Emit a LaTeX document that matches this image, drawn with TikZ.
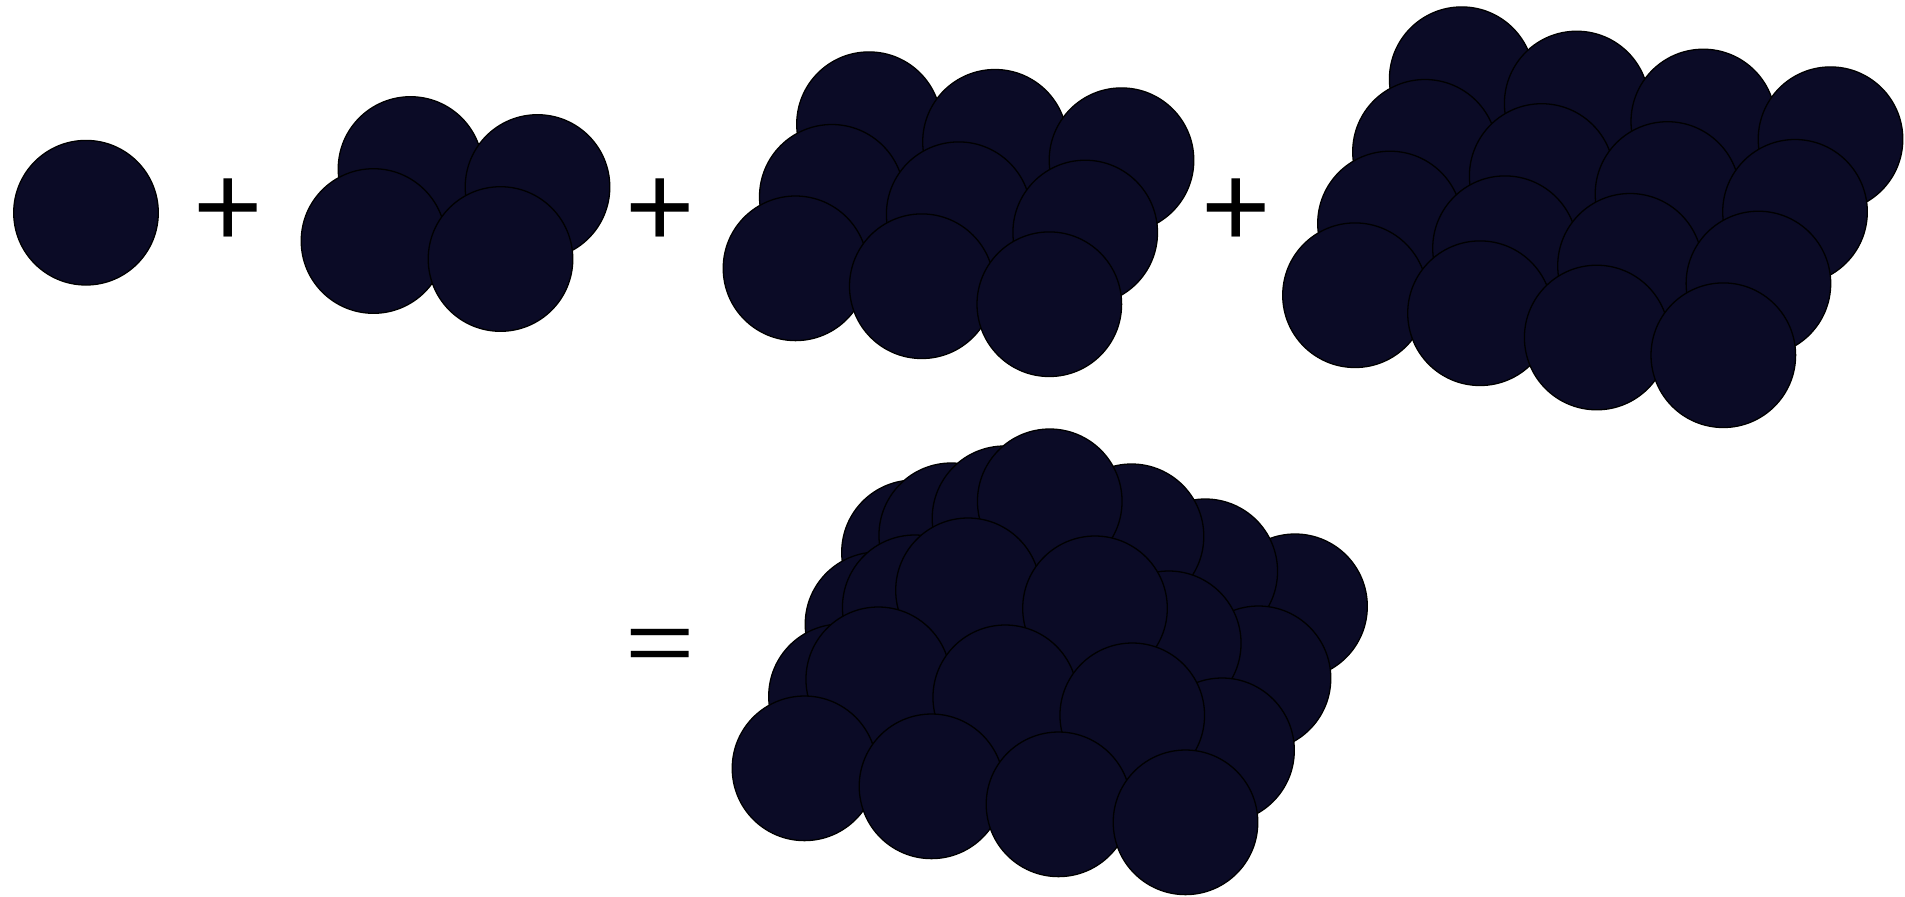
\documentclass[tikz,border=0pt]{standalone}
\usepackage{fontspec}
\setmainfont{Liberation Sans}
\definecolor{ballc}{RGB}{11,11,38}
\begin{document}
\begin{tikzpicture}[x=0.5pt,y=-0.5pt,
  ball/.style={fill=ballc, draw=black, line width=0.65pt},
  sign/.style={inner sep=0pt, outer sep=0pt, font=\fontsize{59.5pt}{60pt}\selectfont}]
\useasboundingbox (0,0) rectangle (1905,896);
\def\R{36.15pt}
% single sphere
\path[ball] (86,212.7) circle[radius=\R];
% 2x2 layer
\foreach \x/\y in {410.5/169,537.5/187,373.5/241,500.5/259}
  \path[ball] (\x,\y) circle[radius=\R];
% 3x3 layer
\foreach \x/\y in {869/124.2,995/141.8,1121.5/160.2,
                   831.8/196.8,958.7/214.2,1085.2/232.5,
                   795.5/268.3,921.8/286.2,1049.3/304.2}
  \path[ball] (\x,\y) circle[radius=\R];
% 4x4 layer
\foreach \x/\y in {1461.7/79.2,1576.7/103.5,1703.3/121.5,1830.5/139.2,
                   1425/151.8,1541.7/176,1667.5/194,1795/211.8,
                   1390/223.5,1505/248.2,1630/265.8,1758.4/283.5,
                   1355/295.2,1480/313.2,1596.7/337.5,1723.3/355.2}
  \path[ball] (\x,\y) circle[radius=\R];
% pyramid (layer/row/column), painted back to front
\foreach \L/\i/\j in {0/3/0,0/3/1,0/3/2,0/3/3,
                      1/2/0,1/2/1,1/2/2,
                      0/2/0,0/2/1,0/2/2,0/2/3,
                      2/1/0,2/1/1,
                      1/1/0,1/1/1,1/1/2,
                      3/0/0,
                      0/1/0,0/1/1,0/1/2,0/1/3,
                      2/0/0,2/0/1,
                      1/0/0,1/0/1,1/0/2,
                      0/0/0,0/0/1,0/0/2,0/0/3}{
  \pgfmathsetmacro\dx{ifthenelse(\L==1,-8,0)}
  \path[ball] ({804.5+127*(\j+\L/2)+36.5*(\i+\L/2)+\dx},{768.3+18*(\j+\L/2)-72*(\i+\L/2)-62*\L}) circle[radius=\R];
}
% signs
\node[sign] (plusA) at (228.5,213.3) {+};
\node[sign] (plusB) at (660.5,213.3) {+};
\node[sign] (plusC) at (1236.5,213.3) {+};
\node[sign, anchor=base] (equal) at (660,672.8) {\scalebox{1}[0.74]{=}};
\end{tikzpicture}
\end{document}
